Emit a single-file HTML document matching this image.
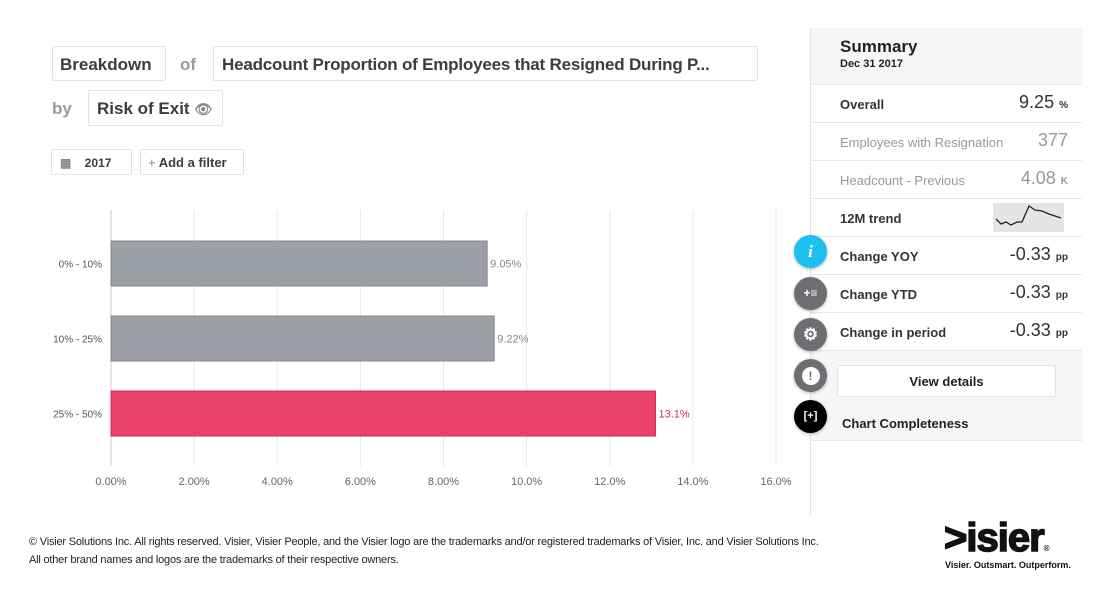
<!DOCTYPE html>
<html><head><meta charset="utf-8"><style>
*{box-sizing:border-box;margin:0;padding:0}
body{width:1109px;height:600px;background:#fff;font-family:"Liberation Sans",sans-serif;color:#333;position:relative;overflow:hidden}
.box{position:absolute;border:1px solid #e1e3e6;border-radius:2px;background:#fff;font-weight:bold;color:#3a3d44}
.lbl{position:absolute;color:#9a9ca3;font-weight:bold;font-size:17px}
.row{position:absolute;left:811px;width:271px;height:38px;border-bottom:1px solid #e6e7ea;font-size:13px;font-weight:bold}
.row .k{position:absolute;left:29px;top:12px}
.row .v{position:absolute;right:14px;top:7px;font-size:18px;font-weight:normal}
.row .v small{font-size:10px;font-weight:bold}
.circ{position:absolute;left:794px;width:33px;height:33px;border-radius:50%;color:#fff;font-weight:bold;text-align:center;line-height:33px;font-size:14px;box-shadow:0 1px 3px rgba(0,0,0,.3)}
</style></head><body>
<div class="box" style="left:52px;top:46px;width:114px;height:35px;font-size:17px;padding:8px 7px">Breakdown</div>
<div class="lbl" style="left:180px;top:55px">of</div>
<div class="box" style="left:213px;top:46px;width:545px;height:35px;font-size:17px;padding:8px 8px;white-space:nowrap;overflow:hidden;letter-spacing:-0.2px">Headcount Proportion of Employees that Resigned During P...</div>
<div class="lbl" style="left:52px;top:99px">by</div>
<div class="box" style="left:88px;top:90px;width:135px;height:36px;font-size:17px;padding:8px 8px">Risk of Exit <span style="color:#888;font-size:14px">👁</span></div>
<div class="box" style="left:51px;top:149px;width:81px;height:26px;font-size:12px;padding:6px 8px"><span style="color:#888">▦</span>&nbsp;&nbsp;&nbsp;&nbsp;2017</div>
<div class="box" style="left:140px;top:149px;width:104px;height:26px;font-size:13px;padding:5px 7px"><span style="color:#888;font-weight:normal">+</span> Add a filter</div>

<svg id="chart" style="position:absolute;left:0;top:0" width="800" height="500"></svg>

<div style="position:absolute;left:810px;top:28px;width:1px;height:487px;background:#e1e3e6"></div>
<div style="position:absolute;left:811px;top:28px;width:271px;height:57px;background:#f5f6f8;border-bottom:1px solid #e6e7ea">
<div style="position:absolute;left:29px;top:9px;font-size:17px;font-weight:bold;color:#222">Summary</div>
<div style="position:absolute;left:29px;top:30px;font-size:11px;font-weight:bold;color:#222">Dec 31 2017</div></div>
<div class="row" style="top:85px"><span class="k">Overall</span><span class="v">9.25 <small>%</small></span></div>
<div class="row" style="top:123px;color:#999;font-weight:normal"><span class="k">Employees with Resignation</span><span class="v">377</span></div>
<div class="row" style="top:161px;color:#999;font-weight:normal"><span class="k">Headcount - Previous</span><span class="v">4.08 <small>K</small></span></div>
<div class="row" style="top:199px"><span class="k">12M trend</span>
<svg style="position:absolute;left:182px;top:4px" width="71" height="29"><rect width="71" height="29" fill="#e4e5e7"/><polyline points="3,16 8,21 13,19 18,22 24,19 29,19 36,3 42,7 49,8 56,11 68,15" fill="none" stroke="#222" stroke-width="1.3"/></svg></div>
<div class="row" style="top:237px"><span class="k">Change YOY</span><span class="v">-0.33 <small>pp</small></span></div>
<div class="row" style="top:275px"><span class="k">Change YTD</span><span class="v">-0.33 <small>pp</small></span></div>
<div class="row" style="top:313px"><span class="k">Change in period</span><span class="v">-0.33 <small>pp</small></span></div>
<div style="position:absolute;left:811px;top:351px;width:271px;height:90px;background:#f5f6f8;border-bottom:1px solid #e6e7ea"></div>
<div class="box" style="left:837px;top:365px;width:219px;height:32px;font-size:13px;text-align:center;padding-top:8px;color:#222">View details</div>
<div style="position:absolute;left:842px;top:416px;font-size:13px;font-weight:bold;color:#222">Chart Completeness</div>
<div class="circ" style="top:235px;background:#1ec0ef;font-style:italic;font-family:'Liberation Serif',serif;font-size:17px">i</div>
<div class="circ" style="top:277px;background:#6d6e72;font-size:12px">+≡</div>
<div class="circ" style="top:318px;background:#6d6e72;font-size:17px">⚙</div>
<div class="circ" style="top:359px;background:#6d6e72"><span style="display:inline-block;width:18px;height:18px;border-radius:50%;background:#fff;color:#6d6e72;line-height:18px;font-size:12px">!</span></div>
<div class="circ" style="top:400px;background:#000;font-size:11px">[+]</div>

<div style="position:absolute;left:29px;top:533px;font-size:11px;color:#222;line-height:18px;letter-spacing:-0.2px">© Visier Solutions Inc. All rights reserved. Visier, Visier People, and the Visier logo are the trademarks and/or registered trademarks of Visier, Inc. and Visier Solutions Inc.<br>All other brand names and logos are the trademarks of their respective owners.</div>
<div style="position:absolute;left:944px;top:518px;font-size:40px;font-weight:900;color:#111;letter-spacing:-1px;line-height:40px;-webkit-text-stroke:1.5px #111">&gt;isier<span style="font-size:8px;-webkit-text-stroke:0">®</span></div>
<div style="position:absolute;left:945px;top:560px;font-size:9px;font-weight:bold;color:#111">Visier. Outsmart. Outperform.</div>

<script>
const categories=["0% - 10%","10% - 25%","25% - 50%"];
const values=[9.05,9.22,13.1];
const valueLabels=["9.05%","9.22%","13.1%"];
const ticks=[0,2,4,6,8,10,12,14,16];
const tickLabels=["0.00%","2.00%","4.00%","6.00%","8.00%","10.0%","12.0%","14.0%","16.0%"];
const x0=111,x1=776,xmax=16;
const xs=v=>x0+(v/xmax)*(x1-x0);
const ys=i=>241+i*75;
const bh=45;
const svg=document.getElementById('chart');
const NS='http://www.w3.org/2000/svg';
function mk(t,a){const e=document.createElementNS(NS,t);for(const k in a)e.setAttribute(k,a[k]);svg.appendChild(e);return e;}
ticks.forEach((t,i)=>{
const g=mk('line',{x1:xs(t),x2:xs(t),y1:210,y2:466,stroke:i==0?'#c9cbcf':'#e6e7ea','stroke-width':1});


const l=mk('text',{x:xs(t),y:485,'text-anchor':'middle','font-size':11,fill:'#666','font-family':'Liberation Sans, sans-serif'});
l.textContent=tickLabels[i];


});
categories.forEach((c,i)=>{
const hi=i==2;
const r=mk('rect',{x:x0,y:ys(i),width:xs(values[i])-x0,height:bh,fill:hi?'#e9416a':'#9c9fa5',stroke:hi?'#c9304f':'#85888d'});


const cl=mk('text',{x:102,y:ys(i)+bh/2+4,'text-anchor':'end','font-size':10,fill:'#555','font-family':'Liberation Sans, sans-serif'});
cl.textContent=c;


const vl=mk('text',{x:xs(values[i])+3,y:ys(i)+bh/2+4,'font-size':11,fill:hi?'#d9304f':'#888','font-family':'Liberation Sans, sans-serif'});
vl.textContent=valueLabels[i];


});
</script>
</body></html>
